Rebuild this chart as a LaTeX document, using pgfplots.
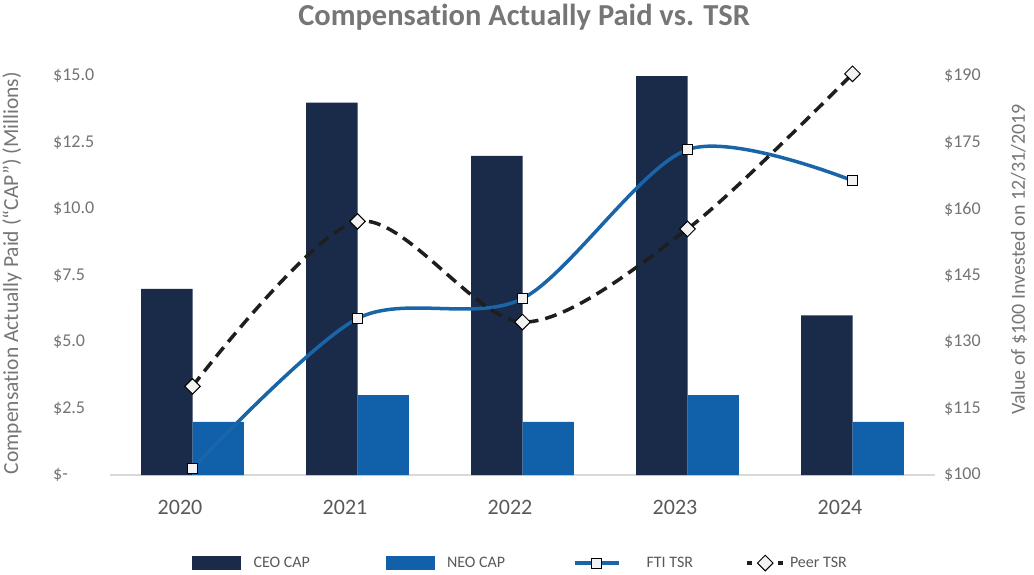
\documentclass[border=0pt]{standalone}
\usepackage{fontspec}
\setmainfont{Carlito}[Ligatures={NoCommon}]
\usepackage{pgfplots}
\pgfplotsset{compat=1.18}
\definecolor{ceo}{HTML}{192B48}
\definecolor{neo}{HTML}{1160AA}
\definecolor{fti}{HTML}{1A64A8}
\definecolor{peer}{HTML}{1E1E1E}
\definecolor{tick}{HTML}{737373}
\definecolor{cat}{HTML}{595959}
\definecolor{ttl}{HTML}{767676}
\definecolor{base}{HTML}{D9D9D9}
\definecolor{mk}{HTML}{F2F2F2}
\begin{document}
\begin{tikzpicture}
\path[use as bounding box] (0pt,0pt) rectangle (1034pt,-574pt);
\begin{axis}[
  at={(110pt,-475pt)}, anchor=south west,
  width=825pt, height=399pt, scale only axis,
  xmin=-0.5, xmax=4.5, ymin=0, ymax=15,
  xtick={0,1,2,3,4}, xticklabels={2020,2021,2022,2023,2024},
  ytick={0,2.5,5,7.5,10,12.5,15},
  yticklabels={\$-,\$2.5,\$5.0,\$7.5,\$10.0,\$12.5,\$15.0},
  axis x line*=bottom, axis y line*=left,
  x axis line style={draw=base, line width=2pt, -},
  y axis line style={draw=none},
  major tick length=0pt,
  yticklabel style={anchor=west, inner sep=0pt, xshift=-57pt, font=\fontsize{18}{18}\selectfont, text=tick},
  xticklabel style={anchor=center, inner sep=0pt, xshift=-12.5pt, yshift=-32pt, font=\fontsize{22}{22}\selectfont, text=cat},
  ylabel={Compensation Actually Paid (“CAP”) (Millions)},
  ylabel style={at={(axis description cs:-0.1188,0.506)}, anchor=center, font=\fontsize{21.5}{21.5}\selectfont, text=ttl},
]
\addplot[ybar, bar width=0.312, bar shift=-0.156, fill=ceo, draw=none] coordinates {(0,7)(1,14)(2,12)(3,15)(4,6)};
\addplot[ybar, bar width=0.312, bar shift=0.156, fill=neo, draw=none] coordinates {(0,2)(1,3)(2,2)(3,3)(4,2)};
\end{axis}
\begin{axis}[
  at={(110pt,-475pt)}, anchor=south west,
  width=825pt, height=399pt, scale only axis,
  xmin=-0.5, xmax=4.5, ymin=100, ymax=190,
  axis x line=none, axis y line*=right,
  y axis line style={draw=none},
  major tick length=0pt,
  ytick={100,115,130,145,160,175,190},
  yticklabels={\$100,\$115,\$130,\$145,\$160,\$175,\$190},
  yticklabel style={anchor=west, inner sep=0pt, xshift=9pt, font=\fontsize{18}{18}\selectfont, text=tick},
  ylabel={Value of \$100 Invested on 12/31/2019},
  ylabel style={at={(axis description cs:1.1018,0.54)}, anchor=center, font=\fontsize{20}{20}\selectfont, text=ttl},
  clip=false,
  legend columns=4,
  legend cell align=left,
  legend style={at={(axis description cs:0.0994,-0.2206)}, anchor=west, draw=none, fill=none,
    inner sep=0pt, nodes={inner sep=0pt}, font=\fontsize{16}{16}\selectfont, text=cat},
]
\addlegendimage{legend image code/.code={\fill[ceo] (0pt,-6.5pt) rectangle (48pt,6.5pt); \path (61pt,0pt);}}
\addlegendentry{\makebox[132pt][l]{CEO CAP}}
\addlegendimage{legend image code/.code={\fill[neo] (0pt,-6.5pt) rectangle (48pt,6.5pt); \path (61pt,0pt);}}
\addlegendentry{\makebox[126pt][l]{NEO CAP}}
\addplot[fti, line width=3.5pt, smooth, mark=square*, mark size=5pt,
  mark options={fill=mk, draw=black, line width=1pt, solid},
  legend image code/.code={\draw[mark repeat=2, mark phase=2] plot coordinates {(0pt,0pt) (22pt,0pt) (44pt,0pt)}; \path (70pt,0pt);}]
  coordinates {(0,101.5)(1,135.3)(2,139.8)(3,173.4)(4,166.4)};
\addlegendentry{\makebox[99pt][l]{FTI TSR}}
\addplot[peer, line width=3.5pt, smooth, dash pattern=on 12pt off 7pt, mark=square*, mark size=5.5pt,
  mark options={rotate=45, fill=mk, draw=black, line width=1pt, solid},
  legend image code/.code={\draw[solid] (0pt,0pt) -- (5pt,0pt) (31pt,0pt) -- (36pt,0pt); \path plot coordinates {(18pt,0pt)}; \path (41pt,0pt);}]
  coordinates {(0,120)(1,157.2)(2,134.5)(3,155.5)(4,190.5)};
\addlegendentry{Peer TSR}
\end{axis}
\node[font=\bfseries\fontsize{30.5}{30.5}\selectfont, text=ttl] at (524pt,-17pt) {Compensation Actually Paid vs. TSR};
\end{tikzpicture}
\end{document}
